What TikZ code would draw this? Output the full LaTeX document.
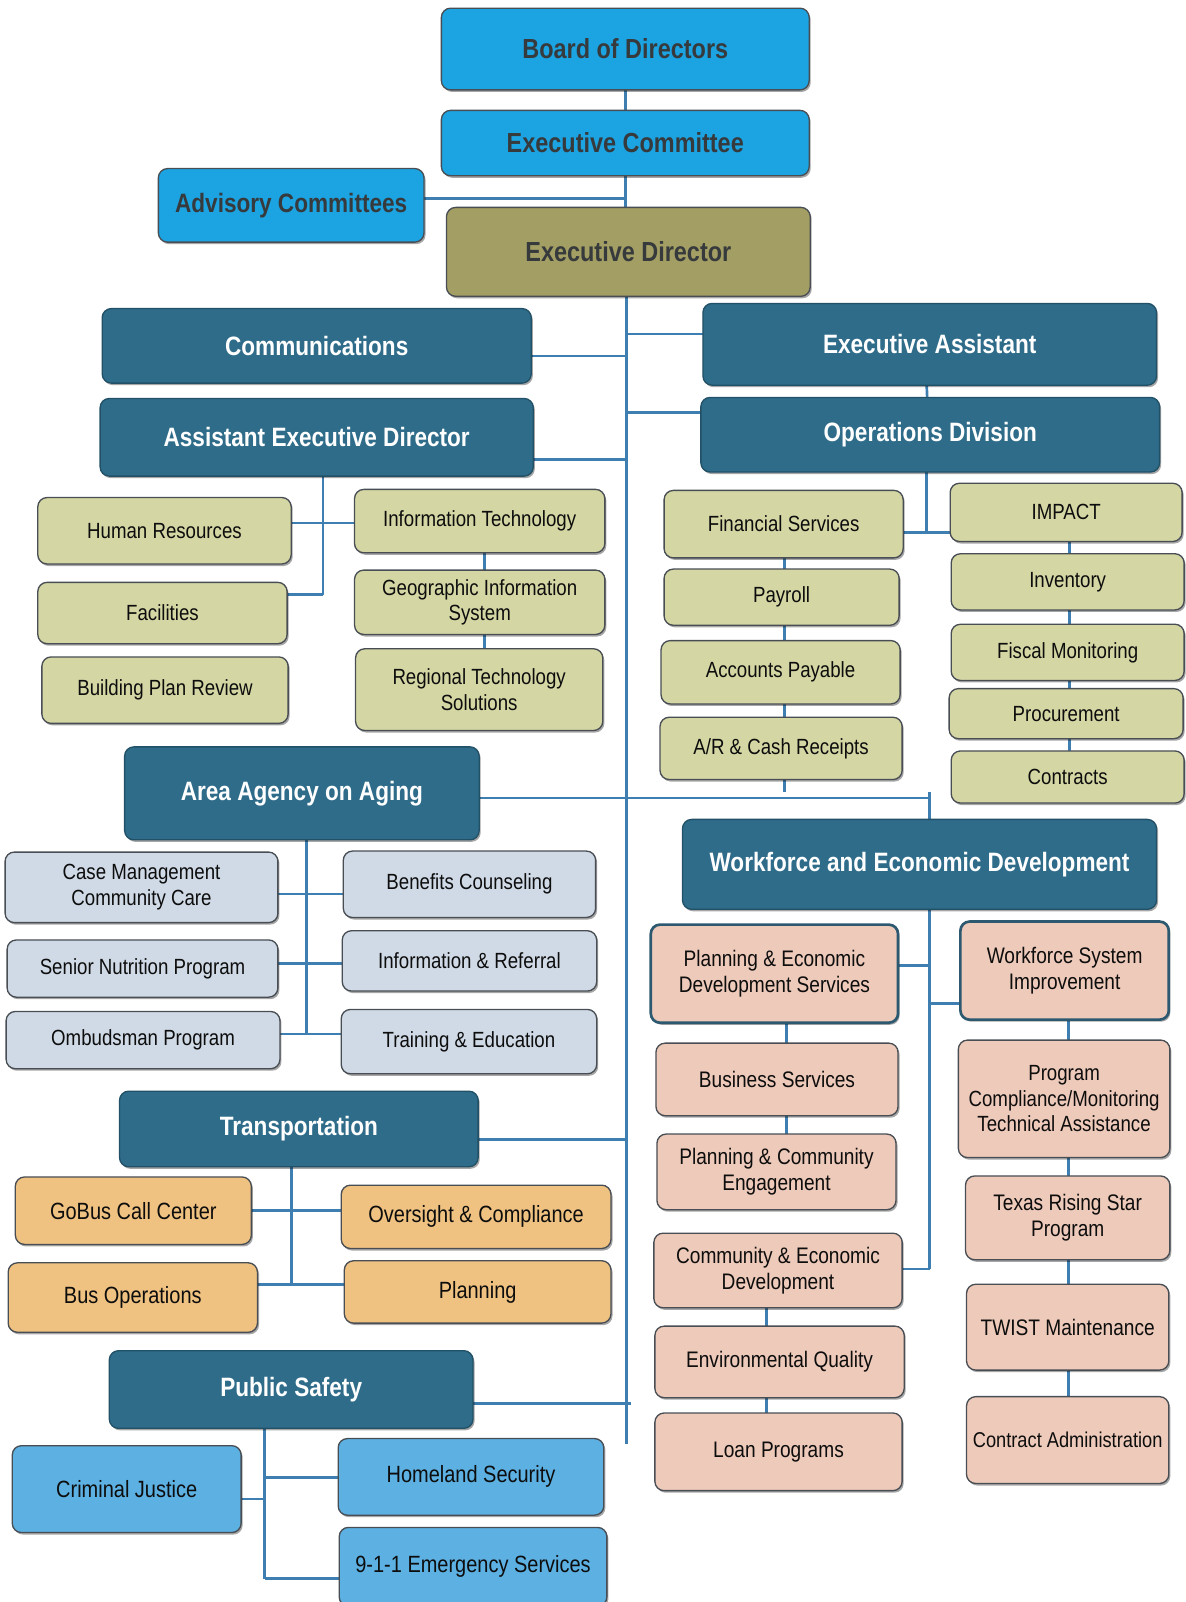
\documentclass[tikz,border=0pt]{standalone}
\usepackage{fontspec}
\setmainfont{Liberation Sans}[FakeStretch=0.85]
\usetikzlibrary{shadows,calc}
\pgfdeclarelayer{bg}
\pgfsetlayers{bg,main}
\definecolor{topblue}{RGB}{28,163,226}
\definecolor{olive}{RGB}{163,158,100}
\definecolor{headteal}{RGB}{46,108,138}
\definecolor{lgreen}{RGB}{212,214,164}
\definecolor{lgray}{RGB}{208,218,230}
\definecolor{salmon}{RGB}{238,202,186}
\definecolor{orangebox}{RGB}{240,194,130}
\definecolor{mblue}{RGB}{92,176,226}
\definecolor{conn}{RGB}{62,126,176}
\definecolor{boxborder}{RGB}{72,78,84}
\definecolor{toptext}{RGB}{55,58,60}
\definecolor{thickborder}{RGB}{44,88,112}
\newcommand\bx[7]{\node[#1, minimum width={(#5-#3)*1pt}, minimum height={(#6-#4)*1pt}] (#2) at ({(#3+#5)/2},{(#4+#6)/2}) {#7};}
\tikzset{
  box/.style={draw=boxborder, line width=1.3pt, rounded corners=9pt, inner sep=0pt, outer sep=0pt,
    align=center, text=black!95, font=\fontsize{21.5}{25}\selectfont,
    drop shadow={shadow xshift=1.5pt, shadow yshift=-2pt, opacity=0.35, fill=black}},
  topbox/.style={box, fill=topblue, text=toptext, font=\bfseries\fontsize{27}{30}\selectfont},
  dirbox/.style={topbox, fill=olive},
  headbox/.style={box, fill=headteal, draw=headteal!75!black, text=white, font=\bfseries\fontsize{26}{30}\selectfont},
  gbox/.style={box, fill=lgreen},
  abox/.style={box, fill=lgray},
  sbox/.style={box, fill=salmon, font=\fontsize{22}{26}\selectfont},
  sthick/.style={sbox, draw=thickborder, line width=2.6pt},
  obox/.style={box, fill=orangebox, font=\fontsize{23}{26}\selectfont},
  pbox/.style={box, fill=mblue, font=\fontsize{23}{26}\selectfont},
  link/.style={draw=conn, line width=2.6pt}
}
\begin{document}
\begin{tikzpicture}[x=1pt,y=-1pt]
\useasboundingbox (0,0) rectangle (1160,1568);
\coordinate (trunkbot) at (613,1413);
\coordinate (aedv) at (316,582);
\coordinate (hrj) at (316,512);
\coordinate (opsj) at (907,521);
\coordinate (finx) at (768,0);
\coordinate (impx) at (1047,0);
\coordinate (itx) at (474,0);
\coordinate (wfdj) at (910,781);
\coordinate (aj1) at (300,875);
\coordinate (aj2) at (300,943);
\coordinate (aj3) at (300,1012);
\coordinate (wj1) at (910,945);
\coordinate (wj2) at (910,982);
\coordinate (wj3) at (910,1242);
\coordinate (lx1) at (770,0);
\coordinate (lx2) at (750,0);
\coordinate (rx) at (1046,0);
\coordinate (tj1) at (285,1185);
\coordinate (tj2) at (285,1257);
\coordinate (pj1) at (259,1446);
\coordinate (pj2) at (259,1467);
\coordinate (pj3) at (259,1545);
\coordinate (advj) at (612,194);

\bx{topbox}{board}{432}{8}{792}{88}{Board of Directors}
\bx{topbox}{execom}{432}{108}{792}{172}{Executive Committee}
\bx{topbox,font=\bfseries\fontsize{26}{30}\selectfont}{adv}{155}{165}{415}{237}{Advisory Committees}
\bx{dirbox}{exdir}{437}{203}{793}{290}{Executive Director}

\bx{headbox}{comm}{100}{302}{520}{375}{Communications}
\bx{headbox}{exa}{688}{297}{1132}{377}{Executive Assistant}
\bx{headbox}{aed}{98}{390}{522}{466}{Assistant  Executive Director}
\bx{headbox}{ops}{686}{389}{1135}{462}{Operations Division}
\bx{headbox}{aaa}{122}{731}{469}{822}{Area Agency on Aging}
\bx{headbox}{wfd}{668}{802}{1132}{890}{Workforce and  Economic Development}
\bx{headbox}{trans}{117}{1068}{468}{1142}{Transportation}
\bx{headbox}{ps}{107}{1322}{463}{1398}{Public Safety}

\bx{gbox}{hr}{37}{487}{285}{552}{Human  Resources}
\bx{gbox}{fac}{37}{570}{281}{630}{Facilities}
\bx{gbox}{bpr}{41}{643}{282}{708}{Building Plan Review}
\bx{gbox}{it}{347}{479}{592}{541}{Information  Technology}
\bx{gbox}{gis}{347}{558}{592}{621}{Geographic Information\\System}
\bx{gbox}{rts}{348}{635}{590}{715}{Regional Technology\\Solutions}
\bx{gbox}{fin}{650}{480}{884}{546}{Financial Services}
\bx{gbox}{pay}{650}{557}{880}{612}{Payroll}
\bx{gbox}{ap}{647}{627}{881}{689}{Accounts Payable}
\bx{gbox}{ar}{646}{702}{883}{763}{A/R \& Cash Receipts}
\bx{gbox}{impact}{930}{473}{1157}{530}{IMPACT}
\bx{gbox}{inv}{931}{542}{1159}{597}{Inventory}
\bx{gbox}{fm}{931}{611}{1159}{666}{Fiscal Monitoring}
\bx{gbox}{proc}{929}{674}{1158}{723}{Procurement}
\bx{gbox}{con}{931}{735}{1159}{786}{Contracts}

\bx{abox}{cm}{5}{834}{272}{903}{Case Management\\Community Care}
\bx{abox}{snp}{7}{920}{272}{976}{Senior Nutrition Program}
\bx{abox}{omb}{6}{990}{274}{1046}{Ombudsman Program}
\bx{abox}{bc}{336}{833}{583}{898}{Benefits Counseling}
\bx{abox}{ir}{335}{911}{584}{970}{Information \& Referral}
\bx{abox}{te}{334}{988}{584}{1051}{Training \& Education}

\bx{sthick}{ped}{637}{905}{879}{1001}{Planning \& Economic\\Development  Services}
\bx{sthick}{wsi}{940}{902}{1144}{998}{Workforce System\\Improvement}
\bx{sbox}{bs}{642}{1021}{879}{1092}{Business Services}
\bx{sbox}{pce}{643}{1110}{877}{1184}{Planning \& Community\\Engagement}
\bx{sbox}{ced}{640}{1207}{883}{1280}{Community \& Economic\\Development}
\bx{sbox}{eq}{641}{1298}{885}{1368}{Environmental Quality}
\bx{sbox}{lp}{641}{1383}{883}{1459}{Loan Programs}
\bx{sbox,font=\fontsize{21.5}{25}\selectfont}{pcm}{938}{1018}{1145}{1133}{Program\\Compliance/Monitoring\\Technical Assistance}
\bx{sbox}{trs}{945}{1151}{1145}{1233}{Texas Rising Star\\Program}
\bx{sbox}{twist}{946}{1257}{1144}{1341}{TWIST Maintenance}
\bx{sbox,font=\fontsize{21}{25}\selectfont}{ca}{946}{1367}{1144}{1452}{Contract Administration}

\bx{obox}{gobus}{15}{1152}{246}{1218}{GoBus Call Center}
\bx{obox}{busop}{8}{1236}{252}{1304}{Bus Operations}
\bx{obox}{ovs}{334}{1160}{598}{1222}{Oversight  \& Compliance}
\bx{obox}{plan}{337}{1234}{598}{1295}{Planning}

\bx{pbox}{cj}{12}{1415}{236}{1500}{Criminal Justice}
\bx{pbox}{hs}{331}{1408}{591}{1483}{Homeland  Security}
\bx{pbox}{ems}{332}{1495}{594}{1572}{9-1-1 Emergency Services}

\begin{pgfonlayer}{bg}
\begin{scope}[link]
\draw (board.south) -- (board.south |- execom.north);
\draw (execom.south) -- (execom.south |- exdir.north);
\draw (adv.east |- advj) -- (advj);
\draw (trunkbot |- exdir.south) -- (trunkbot);
\draw ([yshift=-10pt]comm.east) -- ([yshift=-10pt]comm.east -| trunkbot);
\draw ([yshift=10pt]exa.west) -- ([yshift=10pt]exa.west -| trunkbot);
\draw ([yshift=-22pt]aed.east) -- ([yshift=-22pt]aed.east -| trunkbot);
\draw ([yshift=22pt]ops.west) -- ([yshift=22pt]ops.west -| trunkbot);
\draw ([xshift=-3pt]exa.south) -- ([xshift=-3pt]ops.north);
\draw ([yshift=-4.5pt]aaa.east) -- (wfdj);
\draw ([yshift=6pt]wfdj) -- (wfdj |- wfd.north);
\draw ([yshift=-10pt]trans.east) -- ([yshift=-10pt]trans.east -| trunkbot);
\draw ([yshift=-14pt]ps.east) -- ([yshift=-14pt,xshift=5pt]ps.east -| trunkbot);
\draw (aedv |- aed.south) -- (aedv);
\draw (hr.east |- hrj) -- (it.west |- hrj);
\draw (fac.east |- aedv) -- (aedv);
\draw (itx |- it.south) -- (itx |- gis.north);
\draw (itx |- gis.south) -- (itx |- rts.north);
\draw (opsj |- ops.south) -- (opsj);
\draw (fin.east |- opsj) -- (impact.west |- opsj);
\draw (finx |- fin.south) -- (finx |- pay.north);
\draw (finx |- pay.south) -- (finx |- ap.north);
\draw (finx |- ap.south) -- (finx |- ar.north);
\draw (finx |- ar.south) -- ([yshift=6pt]finx |- wfdj);
\draw (impx |- impact.south) -- (impx |- inv.north);
\draw (impx |- inv.south) -- (impx |- fm.north);
\draw (impx |- fm.south) -- (impx |- proc.north);
\draw (impx |- proc.south) -- (impx |- con.north);
\draw (aj1 |- aaa.south) -- (aj3);
\draw (cm.east |- aj1) -- (bc.west |- aj1);
\draw (snp.east |- aj2) -- (ir.west |- aj2);
\draw (omb.east |- aj3) -- (te.west |- aj3);
\draw (wj1 |- wfd.south) -- (wj3);
\draw (ped.east |- wj1) -- (wj1);
\draw (wj2) -- (wsi.west |- wj2);
\draw (ced.east |- wj3) -- (wj3);
\draw (lx1 |- ped.south) -- (lx1 |- bs.north);
\draw (lx1 |- bs.south) -- (lx1 |- pce.north);
\draw (lx2 |- ced.south) -- (lx2 |- eq.north);
\draw (lx2 |- eq.south) -- (lx2 |- lp.north);
\draw (rx |- wsi.south) -- (rx |- pcm.north);
\draw (rx |- pcm.south) -- (rx |- trs.north);
\draw (rx |- trs.south) -- (rx |- twist.north);
\draw (rx |- twist.south) -- (rx |- ca.north);
\draw (tj1 |- trans.south) -- (tj2);
\draw (gobus.east |- tj1) -- (ovs.west |- tj1);
\draw (busop.east |- tj2) -- (plan.west |- tj2);
\draw (pj1 |- ps.south) -- (pj3);
\draw (pj1) -- (hs.west |- pj1);
\draw (cj.east |- pj2) -- (pj2);
\draw (pj3) -- (ems.west |- pj3);
\end{scope}
\end{pgfonlayer}
\end{tikzpicture}
\end{document}
